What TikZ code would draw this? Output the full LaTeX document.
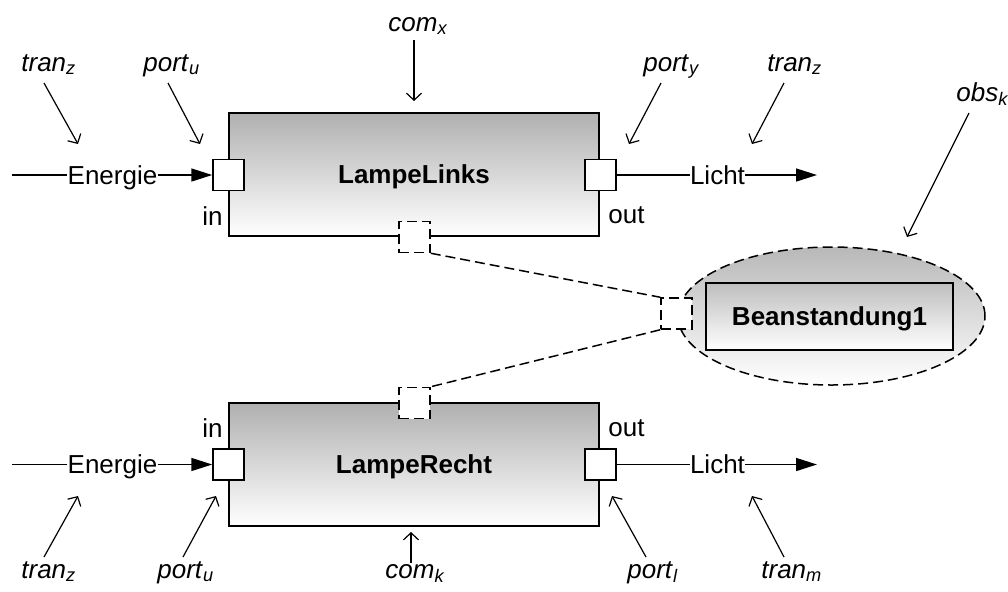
\documentclass[tikz,border=0pt]{standalone}
\usepackage{fontspec}
\setmainfont{Liberation Sans}
\usetikzlibrary{arrows.meta,shapes.geometric}
\newcommand{\sublbl}[2]{\textit{#1}\textsubscript{\textit{#2}}}
\begin{document}
\begin{tikzpicture}[x=0.5pt,y=-0.5pt,
  every node/.style={font=\fontsize{13}{15}\selectfont},
  comp/.style={draw, line width=0.75pt, minimum width=185pt, minimum height=61.5pt,
    top color={rgb,255:red,176;green,176;blue,176}, bottom color=white,
    font=\fontsize{13}{15}\selectfont\bfseries, text height=9.3pt, text depth=0pt},
  portbox/.style={draw, fill=white, line width=0.75pt, minimum size=15.5pt, inner sep=0pt},
  dportbox/.style={portbox, dash pattern=on 5pt off 2.5pt},
  flowtxt/.style={inner sep=0pt, text height=9.3pt, text depth=0pt},
  lbl/.style={inner sep=0pt, anchor=base west},
  flow/.style={line width=0.75pt},
  flowarr/.style={line width=0.75pt, -{Triangle[length=10.5pt,width=6.5pt]}},
  note/.style={line width=0.6pt, -{Straight Barb[length=3.5pt,width=7.5pt]}},
  link/.style={line width=0.75pt, dash pattern=on 5pt off 2.5pt}]
\useasboundingbox (0,0) rectangle (1008,591);

% ---------- upper component ----------
\node[comp] (lampL) at (414,174.5) {LampeLinks};
\node[portbox] (inL) at (228.5,175) {};
\node[portbox] (outL) at (600.5,175) {};
\node[dportbox] (obsL) at (414.5,237) {};
\node[lbl] (inLt) at (202,225) {in};
\node[lbl] (outLt) at (608,223) {out};

\coordinate (srcL) at (12,175);
\node[flowtxt] (enL) at (112.5,175) {Energie};
\draw[flow] (srcL) -- (enL.west);
\draw[flowarr] (enL.east) -- (inL.west);
\node[flowtxt] (liL) at (717.5,175) {Licht};
\coordinate (dstL) at (817,175);
\draw[flow] (outL.east) -- (liL.west);
\draw[flowarr] (liL.east) -- (dstL);

% ---------- lower component ----------
\node[comp] (lampR) at (414,464.5) {LampeRecht};
\node[portbox] (inR) at (228.5,464.5) {};
\node[portbox] (outR) at (600.5,464.5) {};
\node[dportbox] (obsR) at (414.5,403) {};
\node[lbl] (inRt) at (202,437) {in};
\node[lbl] (outRt) at (608,436) {out};

\coordinate (srcR) at (12,464.5);
\node[flowtxt] (enR) at (112.5,464.5) {Energie};
\draw[flow] (srcR) -- (enR.west);
\draw[flowarr] (enR.east) -- (inR.west);
\node[flowtxt] (liR) at (717.5,464.5) {Licht};
\coordinate (dstR) at (817,464.5);
\draw[flow] (outR.east) -- (liR.west);
\draw[flowarr] (liR.east) -- (dstR);

% ---------- observation ----------
\node[ellipse, draw, line width=0.75pt, dash pattern=on 5pt off 2.5pt,
  minimum width=153.5pt, minimum height=69pt, inner sep=0pt,
  top color={rgb,255:red,184;green,184;blue,184}, bottom color=white] (obsE) at (831.5,316) {};
\node[draw, line width=0.75pt, minimum width=123.5pt, minimum height=33.5pt,
  top color={rgb,255:red,190;green,190;blue,190}, bottom color=white,
  font=\fontsize{13}{15}\selectfont\bfseries, text height=9.3pt, text depth=0pt] (bean) at (829.5,316.5) {Beanstandung1};
\node[dportbox] (obsP) at (676.5,313.5) {};

\draw[link] (obsL.south east) -- (obsP.north west);
\draw[link] (obsP.south west) -- (obsR.north east);

% ---------- annotations, top ----------
\node[lbl] (t1) at (21,71) {\sublbl{tran}{z}};
\coordinate (t1a) at (44,83);  \coordinate (t1b) at (78,144);
\draw[note] (t1a) -- (t1b);
\node[lbl] (t2) at (143,71) {\sublbl{port}{u}};
\coordinate (t2a) at (168,83); \coordinate (t2b) at (200,144);
\draw[note] (t2a) -- (t2b);
\node[lbl] (t3) at (388,31) {\sublbl{com}{x}};
\coordinate (t3a) at (414,40); \coordinate (t3b) at (414,101);
\draw[note] (t3a) -- (t3b);
\node[lbl] (t4) at (643,71) {\sublbl{port}{y}};
\coordinate (t4a) at (661,83); \coordinate (t4b) at (629,144);
\draw[note] (t4a) -- (t4b);
\node[lbl] (t5) at (767,71) {\sublbl{tran}{z}};
\coordinate (t5a) at (784,83); \coordinate (t5b) at (752,144);
\draw[note] (t5a) -- (t5b);
\node[lbl] (t6) at (956,101) {\sublbl{obs}{k}};
\coordinate (t6a) at (969,113); \coordinate (t6b) at (907,237);
\draw[note] (t6a) -- (t6b);

% ---------- annotations, bottom ----------
\node[lbl] (b1) at (21,578) {\sublbl{tran}{z}};
\coordinate (b1a) at (44,557);  \coordinate (b1b) at (78,496);
\draw[note] (b1a) -- (b1b);
\node[lbl] (b2) at (157,578) {\sublbl{port}{u}};
\coordinate (b2a) at (183,557); \coordinate (b2b) at (216,496);
\draw[note] (b2a) -- (b2b);
\node[lbl] (b3) at (385,578) {\sublbl{com}{k}};
\coordinate (b3a) at (411,563); \coordinate (b3b) at (411,532);
\draw[note] (b3a) -- (b3b);
\node[lbl] (b4) at (627,578) {\sublbl{port}{l}};
\coordinate (b4a) at (646,557); \coordinate (b4b) at (612,496);
\draw[note] (b4a) -- (b4b);
\node[lbl] (b5) at (761,578) {\sublbl{tran}{m}};
\coordinate (b5a) at (784,557); \coordinate (b5b) at (752,496);
\draw[note] (b5a) -- (b5b);
\end{tikzpicture}
\end{document}
